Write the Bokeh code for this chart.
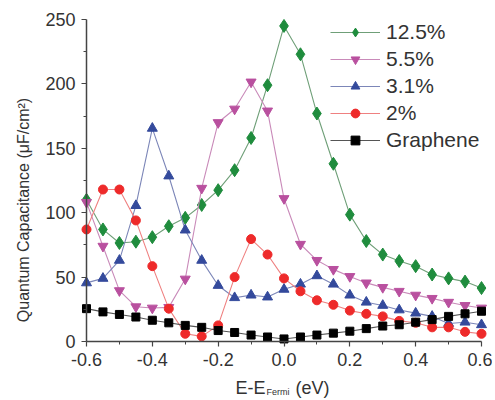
import math
from bokeh.plotting import figure
from bokeh.models import Range1d, Legend, LegendItem, Label, FixedTicker, PrintfTickFormatter
from bokeh.embed import file_html
from bokeh.resources import INLINE

energy = [-0.6, -0.55, -0.5, -0.45, -0.4, -0.35, -0.3, -0.25, -0.2, -0.15, -0.1, -0.05,
          0.0, 0.05, 0.1, 0.15, 0.2, 0.25, 0.3, 0.35, 0.4, 0.45, 0.5, 0.55, 0.6]

cq_125 = [110, 87, 76.5, 77.5, 81, 89.5, 96, 106, 117.5, 133, 158, 199, 245, 223, 177, 138,
          98.5, 78, 67.5, 62.5, 58.5, 52, 49, 46.5, 41.5]
cq_55 = [108, 74, 39.5, 27, 26, 26.5, 48.5, 119, 170, 180.5, 201.5, 179, 111, 75.5, 63, 56,
         50.5, 45.5, 42, 39, 36, 33.5, 30.5, 28, 26]
cq_31 = [45.5, 49, 63, 105.5, 165.5, 128.5, 86.5, 63, 43.5, 34, 36, 34.5, 40.5, 44.5, 51, 44.5,
         36, 30.5, 28, 24.5, 22, 19.5, 14, 15, 13]
cq_2 = [87, 118, 118, 94, 58.5, 25.5, 6, 4, 12.5, 50, 79.5, 67.5, 49, 39, 32, 28.5, 24, 21.5,
        19.5, 16, 14.5, 11, 11, 7.5, 6]
cq_gr = [25.5, 23, 21, 19, 16.5, 14.5, 12.5, 11, 8.5, 7, 5, 3.5, 2, 3.5, 5, 6.5, 8, 10, 12, 13,
         15, 17, 19.5, 21.5, 23.5]

labels = ["12.5%", "5.5%", "3.1%", "2%", "Graphene"]

x_major = [-0.6, -0.4, -0.2, 0.0, 0.2, 0.4, 0.6]
x_minor = [-0.5, -0.3, -0.1, 0.1, 0.3, 0.5]
y_major = [0, 50, 100, 150, 200, 250]
y_minor = [25, 75, 125, 175, 225]
X_MIN, X_MAX = -0.6, 0.6
Y_MIN, Y_MAX = 0, 250

FONT = "Liberation Sans"
TXT = "#333333"

# canvas layout (pixels): axes box from (86,19) to (481,341)
W, H = 492, 400
L_PX, R_PX, T_PX, B_PX = 86, 481, 19, 341
xs = (X_MAX - X_MIN) / (R_PX - L_PX)
ys = (Y_MAX - Y_MIN) / (B_PX - T_PX)

p = figure(width=W, height=H, output_backend="svg", toolbar_location=None,
           x_range=Range1d(X_MIN - L_PX * xs, X_MAX + (W - R_PX) * xs),
           y_range=Range1d(Y_MIN - (H - B_PX) * ys, Y_MAX + T_PX * ys),
           min_border_left=0, min_border_right=0, min_border_top=0, min_border_bottom=0)
p.outline_line_color = None
p.grid.visible = False
p.background_fill_color = "white"

p.xaxis.ticker = FixedTicker(ticks=x_major, minor_ticks=x_minor)
p.yaxis.ticker = FixedTicker(ticks=y_major, minor_ticks=y_minor)
p.xaxis.formatter = PrintfTickFormatter(format="%.1f")
p.xaxis.bounds = (X_MIN, X_MAX)
p.yaxis.bounds = (Y_MIN, Y_MAX)
p.xaxis.fixed_location = Y_MIN
p.yaxis.fixed_location = X_MIN

for ax in (p.xaxis, p.yaxis):
    ax.axis_line_color = "#444444"
    ax.axis_line_width = 1.5
    ax.major_tick_line_color = "#444444"
    ax.minor_tick_line_color = "#444444"
    ax.major_tick_line_width = 1.2
    ax.major_tick_out = 5
    ax.major_tick_in = 0
    ax.minor_tick_out = 3
    ax.minor_tick_in = 0
    ax.major_label_text_font = FONT
    ax.major_label_text_font_size = "18px"
    ax.major_label_text_color = TXT
    ax.major_label_standoff = 6

series = [
    (cq_125, "#1f8c3d", "#6f9f78", "diamond", 13),
    (cq_55, "#b9509f", "#c98ab9", "inverted_triangle", 10),
    (cq_31, "#344a9c", "#7c86b8", "triangle", 10),
    (cq_2, "#ee2a2a", "#ef8080", "circle", 9),
    (cq_gr, "#000000", "#555555", "square", 8),
]

items = []
for (vals, mcol, lcol, mk, sz), lab in zip(series, labels):
    ln = p.line(energy, vals, line_color=lcol, line_width=1.1)
    sc = p.scatter(energy, vals, marker=mk, size=sz, fill_color=mcol, line_color=mcol)
    items.append(LegendItem(label=lab, renderers=[ln, sc]))

legend = Legend(items=items, location=(330, 248), border_line_color=None,
                background_fill_alpha=0, padding=0, margin=0, spacing=3,
                glyph_width=50, glyph_height=22, label_height=22, label_standoff=6,
                label_text_font=FONT, label_text_font_size="21px", label_text_color=TXT)
p.add_layout(legend)

# axis titles
p.add_layout(Label(x=X_MIN - 63 * xs, y=Y_MIN + 131.5 * ys, angle=math.pi / 2,
                   text="Quantum Capacitance (\u03bcF/cm\u00b2)",
                   text_font=FONT, text_font_size="16px", text_color=TXT,
                   text_align="center", text_baseline="middle"))
p.add_layout(Label(x=X_MIN + 149 * xs, y=Y_MIN - 46 * ys, text="E-E",
                   text_font=FONT, text_font_size="18px", text_color=TXT,
                   text_baseline="alphabetic"))
p.add_layout(Label(x=X_MIN + 180 * xs, y=Y_MIN - 50 * ys, text="Fermi",
                   text_font=FONT, text_font_size="9px", text_color=TXT,
                   text_baseline="alphabetic"))
p.add_layout(Label(x=X_MIN + 209 * xs, y=Y_MIN - 46 * ys, text="(eV)",
                   text_font=FONT, text_font_size="18px", text_color=TXT,
                   text_baseline="alphabetic"))

open("out.html", "w").write(file_html(p, INLINE))
